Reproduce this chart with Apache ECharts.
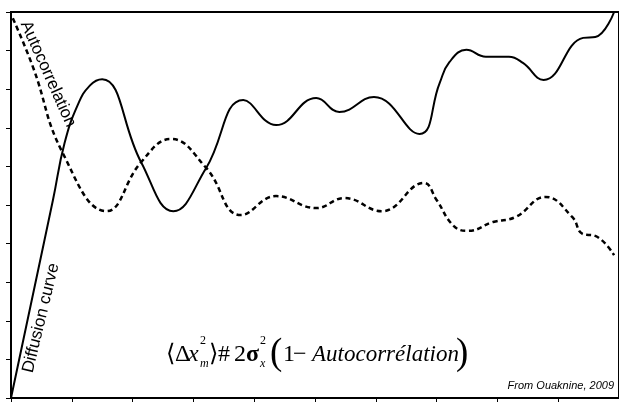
<!DOCTYPE html>
<html>
<head>
<meta charset="utf-8">
<script src="https://cdn.jsdelivr.net/npm/echarts@6/dist/echarts.min.js"></script>
<style>
  html, body { margin: 0; padding: 0; background: #fff; }
  #chart { width: 619px; height: 402px; }
</style>
</head>
<body>
<div id="chart"></div>
<script>
// diffusion curve (solid)
const diffX = [0, 0.69, 0.88, 1.1, 1.3, 1.5, 2.14, 2.67, 3.21, 3.82, 4.36, 5.02, 5.40, 5.97, 6.72, 7.05, 7.21, 7.49, 7.81, 8.19, 8.42, 8.76, 9.41, 9.61, 9.92]
const diffY = [0, 5.13, 6.6, 7.6, 8.1, 8.26, 6.11, 4.84, 5.96, 7.72, 7.07, 7.77, 7.41, 7.80, 6.84, 8.16, 8.7, 9.02, 8.84, 8.84, 8.68, 8.24, 9.33, 9.35, 10]
// autocorrelation (dashed)
const acX = [0.03, 0.36, 0.85, 1.57, 2.14, 2.63, 3.21, 3.78, 4.36, 5.02, 5.48, 6.10, 6.79, 7.00, 7.28, 7.52, 7.93, 8.30, 8.79, 9.23, 9.40, 9.61, 9.92]
const acY = [9.84, 8.58, 6.35, 4.84, 6.11, 6.71, 5.96, 4.74, 5.23, 4.92, 5.18, 4.84, 5.57, 5.13, 4.46, 4.33, 4.56, 4.69, 5.21, 4.69, 4.25, 4.20, 3.70]

const pairs = (xs, ys) => xs.map((x, i) => [x, ys[i]])

const sans = '"Liberation Sans", Arial, sans-serif'
const serif = '"Liberation Serif", "DejaVu Serif", serif'

const chart = echarts.init(document.getElementById('chart'))

// formula pieces: [text, x, y, font]
const formula = [
  ['⟨', 166, 355, '24px ' + serif],
  ['Δ', 175, 355, '24px ' + serif],
  ['x', 188, 355, 'italic 24px ' + serif],
  ['2', 200, 341, '12px ' + serif],
  ['m', 200, 364, 'italic 12px ' + serif],
  ['⟩', 209, 355, '24px ' + serif],
  ['#', 218, 355, '24px ' + serif],
  ['2', 234, 355, '24px ' + serif],
  ['σ', 246, 355, 'bold 24px ' + serif],
  ['2', 260, 341, '12px ' + serif],
  ['x', 260, 364, 'italic 12px ' + serif],
  ['(', 270, 354, '37px ' + serif],
  ['1', 283, 355, '24px ' + serif],
  ['−', 293, 355, '24px ' + serif],
  ['Autocorrélation', 312, 355, 'italic 23px ' + serif],
  [')', 456, 354, '37px ' + serif],
]

const option = {
  animation: false,
  grid: {
    left: 11,
    top: 12,
    right: -7,
    bottom: 4,
    show: true,
    borderColor: '#000',
    borderWidth: 2,
  },
  xAxis: {
    type: 'value',
    min: 0,
    max: 10,
    interval: 1,
    axisLine: { lineStyle: { color: '#000', width: 2 } },
    axisTick: { show: true, length: 5, lineStyle: { color: '#000', width: 1 } },
    axisLabel: { show: false },
    splitLine: { show: false },
  },
  yAxis: {
    type: 'value',
    min: 0,
    max: 10,
    interval: 1,
    axisLine: { show: true, lineStyle: { color: '#000', width: 2 } },
    axisTick: { show: true, length: 5, lineStyle: { color: '#000', width: 1 } },
    axisLabel: { show: false },
    splitLine: { show: false },
  },
  series: [
    {
      name: 'Diffusion curve',
      type: 'line',
      data: pairs(diffX, diffY),
      smooth: 0.45,
      symbol: 'none',
      lineStyle: { color: '#000', width: 2 },
    },
    {
      name: 'Autocorrelation',
      type: 'line',
      data: pairs(acX, acY),
      smooth: 0.45,
      symbol: 'none',
      lineStyle: { color: '#000', width: 2.5, type: [5, 3.5] },
    },
  ],
  graphic: [
    {
      type: 'text',
      x: 48,
      y: 74,
      rotation: -66 * Math.PI / 180,
      style: { text: 'Autocorrelation', font: '17px ' + sans, fill: '#000', align: 'center', verticalAlign: 'middle' },
    },
    {
      type: 'text',
      x: 41,
      y: 318,
      rotation: 76.5 * Math.PI / 180,
      style: { text: 'Diffusion curve', font: '17px ' + sans, fill: '#000', align: 'center', verticalAlign: 'middle' },
    },
    {
      type: 'text',
      x: 614,
      y: 386,
      style: { text: 'From Ouaknine, 2009', font: 'italic 11px ' + sans, fill: '#000', align: 'right', verticalAlign: 'middle' },
    },
    ...formula.map(([t, x, y, f]) => ({
      type: 'text',
      x: x,
      y: y,
      style: { text: t, font: f, fill: '#000', align: 'left', verticalAlign: 'middle' },
    })),
  ],
}

chart.setOption(option)
</script>
</body>
</html>
